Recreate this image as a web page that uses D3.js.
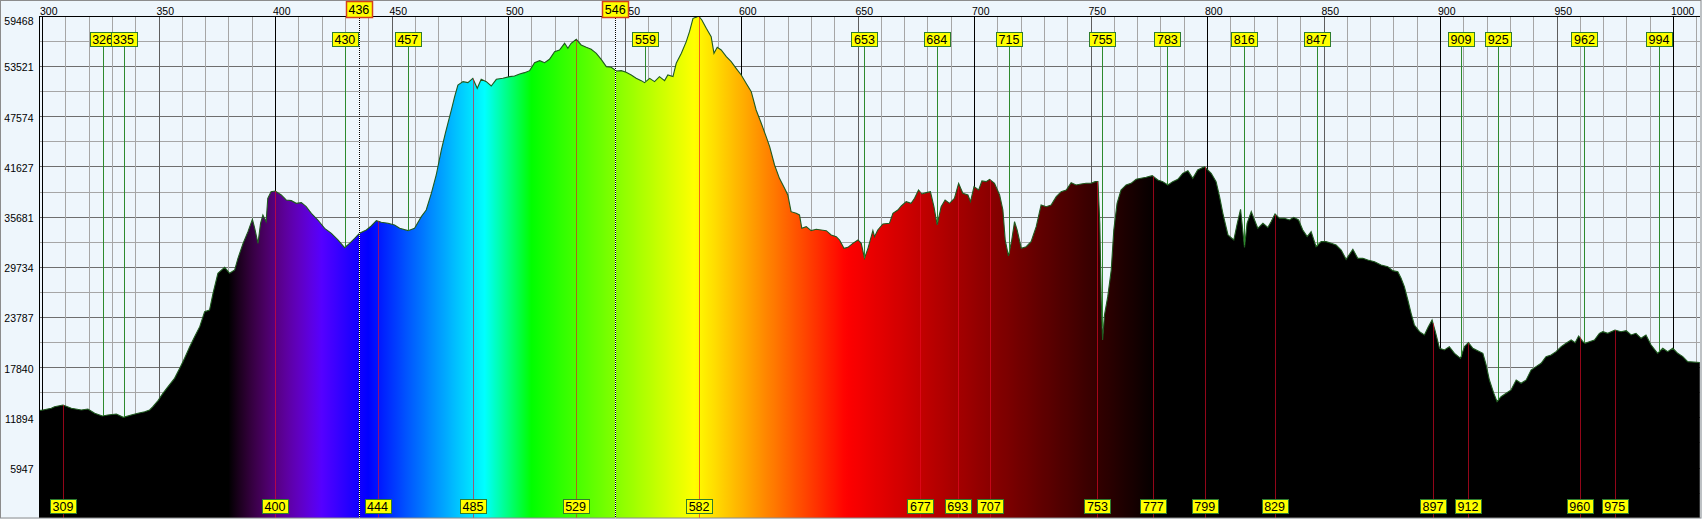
<!DOCTYPE html>
<html><head><meta charset="utf-8">
<script src="https://cdn.jsdelivr.net/npm/d3@7"></script>
<style>html,body{margin:0;padding:0;background:#eef6fc;overflow:hidden}svg{display:block}text{font-family:"Liberation Sans",Arial,sans-serif}</style>
</head><body><svg id="c" width="1702" height="519"></svg>
<script>
// ---- data ----
const wavelengths = [298.7,300.4,304.0,305.4,309.0,312.6,316.9,319.7,322.6,325.9,328.3,331.9,334.9,338.3,341.2,344.1,346.2,347.6,349.8,351.9,354.1,356.9,359.1,361.2,363.4,365.5,367.7,369.8,371.9,373.4,375.5,378.4,380.5,382.7,384.1,386.3,388.4,390.3,391.3,392.7,393.8,394.8,396.2,396.9,398.3,400.1,402.7,404.8,407.0,409.1,411.3,413.4,415.6,418.4,421.3,424.2,427.0,429.9,432.0,434.2,436.3,439.2,441.3,443.5,445.6,448.5,451.3,453.5,457.1,459.9,462.8,464.9,467.1,469.2,471.4,473.1,474.2,475.7,477.1,478.5,480.7,482.8,484.9,486.8,488.5,490.7,492.8,495.0,497.8,500.7,502.8,505.0,507.1,509.3,511.4,513.6,515.7,517.8,520.0,522.1,524.3,525.7,527.1,529.3,531.4,533.6,535.7,537.9,540.0,542.2,544.3,546.5,548.6,550.7,552.9,555.0,557.2,558.6,560.8,562.9,565.0,567.2,568.6,570.8,572.2,574.4,576.5,577.9,579.4,580.8,581.8,583.2,585.1,587.2,588.4,589.8,591.5,593.7,595.8,597.9,600.1,602.2,604.4,606.5,608.7,610.8,612.3,614.4,616.5,618.7,620.1,621.5,623.7,625.1,626.1,628.0,630.1,632.3,634.4,636.6,638.7,640.9,642.3,644.2,645.9,648.0,650.2,651.6,653.0,654.5,656.6,657.3,658.7,660.9,663.7,665.2,667.3,668.8,670.9,673.0,674.5,676.2,677.6,679.5,681.3,682.8,684.2,685.9,687.6,689.5,691.6,693.4,695.2,697.4,698.5,700.0,702.0,703.4,705.2,706.7,708.8,711.0,712.4,713.4,714.8,716.2,717.4,718.5,720.3,722.4,724.5,726.7,728.8,731.0,733.1,735.3,737.4,739.6,741.7,743.8,746.0,748.1,750.3,752.0,753.2,754.0,754.6,755.2,756.0,757.4,758.9,760.0,761.4,763.1,765.3,767.4,769.6,771.7,773.9,776.5,778.9,781.0,783.2,785.3,787.5,789.6,791.8,793.9,796.0,798.9,801.8,803.9,805.4,806.8,809.0,811.5,813.0,814.4,816.1,817.2,819.0,820.4,821.8,824.0,826.1,827.5,829.2,831.1,833.2,835.4,837.2,839.3,841.1,843.0,844.7,846.8,849.0,851.1,853.3,855.4,857.6,859.7,862.6,864.7,866.9,869.0,871.9,874.7,877.6,879.7,881.9,883.3,884.7,886.2,887.6,889.0,891.2,893.3,895.0,896.6,898.0,899.8,901.9,904.0,906.2,908.8,910.5,912.2,914.1,916.2,918.4,919.8,921.2,923.1,924.5,926.2,928.4,930.5,932.7,934.8,937.0,939.1,941.2,943.4,945.5,947.7,949.8,952.0,954.1,956.3,958.0,959.5,961.3,962.3,964.1,966.3,968.4,969.9,972.0,975.1,977.7,979.9,982.0,984.1,986.3,988.4,990.6,993.4,995.6,997.7,999.9,1002.0,1004.2,1006.3,1011.5];
const intensity = [12700,12771,12968,13166,13363,12968,12771,12890,12376,12060,12179,12297,11902,12179,12376,12573,12771,13166,13876,14745,15535,16522,17707,18892,20274,21459,22643,24420,24617,26592,28961,29672,28961,29356,30738,32515,33897,35358,34292,32515,34884,35872,35082,37847,38636,38715,38241,37649,37570,37254,37333,36859,36069,35279,34292,33700,32910,32002,32515,33108,33700,34095,34568,35200,35003,34884,34687,34292,34016,34292,35674,36464,38438,40610,43572,45546,46731,48311,49890,51272,51667,51549,52062,50877,51944,51667,51154,51944,52062,52260,52339,52576,52734,52971,53918,54155,53918,54313,55221,55418,56208,55616,56208,56682,56011,55734,55497,55023,54313,53444,53365,52931,52971,52773,52457,52062,51786,51549,52062,51667,52260,51786,52457,52260,53839,55023,56405,57590,59169,59287,59445,58971,57984,56997,55023,55734,55418,54629,54036,53247,52457,51470,50482,48311,46731,45152,43967,41795,40215,39031,38241,36266,36069,35872,34292,34489,34016,34174,34095,34016,33503,33305,32910,31923,32041,32515,32910,32515,30738,31923,34016,33305,34095,34805,34884,36069,36464,36938,37452,37254,37847,38834,38360,38518,38636,36859,34687,36859,37649,37254,37847,39624,38438,38241,37452,39229,38834,39900,39821,40097,39624,38241,36464,32910,31015,32910,35082,34095,31923,32120,32713,34489,37057,36859,37057,38044,38636,38834,39703,39427,39545,39624,39624,39821,39821,34884,25802,21064,24025,26197,29356,34095,37254,38834,39427,39624,40097,40215,40334,40531,40018,39821,39427,39821,40097,40808,41124,40215,41203,41598,40808,39821,38044,36069,33503,32910,34884,36543,32041,34884,36266,35279,34292,34884,34400,35082,35990,35477,35477,35279,35595,35279,34095,33305,33897,32120,32713,32713,32515,32318,31725,30620,31805,30738,30738,30541,30343,29948,29751,29277,29158,28369,27381,25802,24222,22840,22050,21655,22643,23433,22050,20077,19880,20274,19484,18892,20274,20748,20077,19801,19484,18102,16325,14745,13758,14350,14745,15140,16325,15930,16325,17509,17904,18299,19089,19287,19682,20274,20669,21064,20748,21538,20866,20669,20866,21064,21854,22050,21854,22249,22050,22170,21655,21854,21261,21655,20471,19484,20077,19682,20077,19484,19089,18497,18400];
const xTickValues = [300,350,400,450,500,550,600,650,700,750,800,850,900,950,1000];
const yTickValues = [5947,11894,17840,23787,29734,35681,41627,47574,53521,59468];
const yTickLabels = ["5947","11894","17840","23787","29734","35681","41627","47574","53521","59468"];
const yMaxValue = 59468;
const dipMarkers = [326,335,430,457,559,653,684,715,755,783,816,847,909,925,962,994];
const peakMarkers = [309,400,444,485,529,582,677,693,707,753,777,799,829,897,912,960,975];
const referenceLines = [436,546];

// ---- layout ----
const W = 1702, H = 519;
const plot = {left: 39, top: 16, right: 1700, bottom: 518};
const x = d3.scaleLinear().domain([300, 1000]).range([42, 1673]);
const y = d3.scaleLinear().domain([0, yMaxValue]).range([517.8, 15.8]);
const svg = d3.select("#c");
const crisp = v => Math.round(v) + 0.5;

const data = wavelengths.map((w, i) => ({w, v: intensity[i]}));
function valueAt(w) {
  const i = d3.bisector(d => d.w).left(data, w);
  if (i <= 0) return data[0].v;
  if (i >= data.length) return data[data.length - 1].v;
  const a = data[i - 1], b = data[i];
  return a.v + (b.v - a.v) * (w - a.w) / (b.w - a.w);
}
function wlColor(w) {
  let r = 0, g = 0, b = 0;
  if (w >= 380 && w < 440) { r = (440 - w) / 60; b = 1; }
  else if (w >= 440 && w < 490) { g = (w - 440) / 50; b = 1; }
  else if (w >= 490 && w < 510) { g = 1; b = (510 - w) / 20; }
  else if (w >= 510 && w < 580) { r = (w - 510) / 70; g = 1; }
  else if (w >= 580 && w < 645) { r = 1; g = (645 - w) / 65; }
  else if (w >= 645 && w <= 780) { r = 1; }
  let f = 0;
  if (w >= 380 && w < 420) f = (w - 380) / 40;
  else if (w >= 420 && w <= 645) f = 1;
  else if (w > 645 && w <= 780) f = (780 - w) / 135;
  return d3.rgb(Math.round(255 * r * f), Math.round(255 * g * f), Math.round(255 * b * f)).formatHex();
}

// background + frame
svg.append("rect").attr("x", 0).attr("y", 0).attr("width", W).attr("height", H).attr("fill", "#eef6fc");
const defs = svg.append("defs");
defs.append("clipPath").attr("id", "clip").append("rect")
  .attr("x", plot.left).attr("y", plot.top).attr("width", plot.right - plot.left).attr("height", plot.bottom - plot.top);
const grad = defs.append("linearGradient").attr("id", "spec").attr("gradientUnits", "userSpaceOnUse")
  .attr("x1", x(300)).attr("x2", x(1012)).attr("y1", 0).attr("y2", 0);
d3.range(300, 1013, 2).forEach(w => {
  grad.append("stop").attr("offset", (w - 300) / 712).attr("stop-color", wlColor(w));
});

const g = svg.append("g").attr("clip-path", "url(#clip)");

// grid
const hVals = d3.range(0, 21).map(i => yMaxValue * i / 20);
g.selectAll("line.h").data(hVals).join("line")
  .attr("x1", plot.left).attr("x2", plot.right)
  .attr("y1", d => crisp(y(d))).attr("y2", d => crisp(y(d)))
  .attr("stroke", (d, i) => i % 2 === 0 ? "#6e6e6e" : "#a6a6a6").attr("stroke-width", 1);
const vVals = d3.range(300, 1011, 10);
g.selectAll("line.v").data(vVals).join("line")
  .attr("y1", plot.top).attr("y2", plot.bottom)
  .attr("x1", d => crisp(x(d))).attr("x2", d => crisp(x(d)))
  .attr("stroke", d => d % 100 === 0 ? "#000" : (d % 50 === 0 ? "#5e5e5e" : "#a6a6a6")).attr("stroke-width", 1);

// spectrum area
const area = d3.area().x(d => x(d.w)).y0(y(0) + 2).y1(d => y(d.v));
g.append("path").datum(data).attr("d", area).attr("fill", "url(#spec)");
const line = d3.line().x(d => x(d.w)).y(d => y(d.v));
g.append("path").datum(data).attr("d", line).attr("fill", "none").attr("stroke", "#1f5a1f").attr("stroke-width", 1.1);

// dip markers (green)
g.selectAll("line.dip").data(dipMarkers).join("line")
  .attr("x1", d => crisp(x(d))).attr("x2", d => crisp(x(d)))
  .attr("y1", 46).attr("y2", d => y(valueAt(d)))
  .attr("stroke", "#2e8a2e").attr("stroke-width", 1);
// peak markers (red)
g.selectAll("line.peak").data(peakMarkers).join("line")
  .attr("x1", d => crisp(x(d))).attr("x2", d => crisp(x(d)))
  .attr("y1", d => y(valueAt(d))).attr("y2", plot.bottom)
  .attr("stroke", "rgba(235,10,40,0.62)").attr("stroke-width", 1);
// reference dotted lines
referenceLines.forEach(w => {
  g.append("line").attr("x1", crisp(x(w))).attr("x2", crisp(x(w))).attr("y1", plot.top).attr("y2", plot.bottom)
    .attr("stroke", "#ffffff").attr("stroke-width", 1);
  g.append("line").attr("x1", crisp(x(w))).attr("x2", crisp(x(w))).attr("y1", plot.top).attr("y2", plot.bottom)
    .attr("stroke", "#000").attr("stroke-width", 1).attr("stroke-dasharray", "1,1");
});

// plot borders
svg.append("line").attr("x1", plot.left + 0.5).attr("x2", plot.left + 0.5).attr("y1", plot.top).attr("y2", plot.bottom).attr("stroke", "#000");
svg.append("line").attr("x1", plot.left).attr("x2", plot.right).attr("y1", plot.top + 0.5).attr("y2", plot.top + 0.5).attr("stroke", "#000");
svg.append("rect").attr("x", 0.5).attr("y", 0.5).attr("width", W - 1.5).attr("height", H - 1.5)
  .attr("fill", "none").attr("stroke", "#8c8c8c").attr("stroke-width", 1);

// axis labels
svg.selectAll("text.xt").data(xTickValues).join("text")
  .attr("x", d => x(d) - 2).attr("y", 14.5).attr("font-size", "10.5px").attr("fill", "#000")
  .text(d => d);
svg.selectAll("text.yt").data(yTickValues).join("text")
  .attr("x", 33.5).attr("text-anchor", "end").attr("font-size", "10.5px").attr("fill", "#000")
  .attr("y", d => Math.max(y(d) + 1.5, 21) + 3.8)
  .text((d, i) => yTickLabels[i]);

// marker labels
function box(w, top, stroke, sw, h) {
  const cx = x(w);
  svg.append("rect").attr("x", Math.round(cx - 13) + 0.5).attr("y", top + 0.5).attr("width", 26).attr("height", h)
    .attr("fill", "#ffff00").attr("stroke", stroke).attr("stroke-width", sw);
  svg.append("text").attr("x", cx).attr("y", top + h / 2 + 5).attr("text-anchor", "middle")
    .attr("font-size", "12.5px").attr("fill", "#000").text(w);
}
dipMarkers.forEach(w => box(w, 32, "#2e7d2e", 1, 14));
peakMarkers.forEach(w => box(w, 499, "#2e7d2e", 1, 14));
referenceLines.forEach(w => box(w, 1, "#d2401c", 1.5, 16));
</script></body></html>
